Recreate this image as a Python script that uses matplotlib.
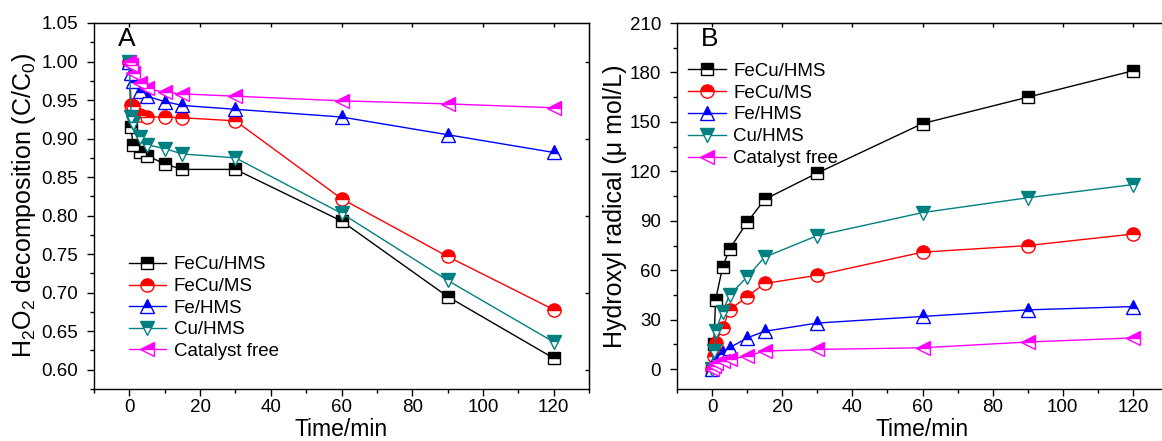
import matplotlib
matplotlib.use("Agg")
import matplotlib.pyplot as plt
from matplotlib.ticker import MultipleLocator, FormatStrFormatter

plt.rcParams['font.family'] = ['Liberation Sans', 'DejaVu Sans']
plt.rcParams['mathtext.fontset'] = 'custom'
plt.rcParams['mathtext.rm'] = 'Liberation Sans'
plt.rcParams['mathtext.it'] = 'Liberation Sans:italic'
plt.rcParams['mathtext.default'] = 'regular'

# ---------------- data ----------------
time_min = [0, 0.5, 1, 3, 5, 10, 15, 30, 60, 90, 120]
labels = ["FeCu/HMS", "FeCu/MS", "Fe/HMS", "Cu/HMS", "Catalyst free"]

# Panel A: H2O2 decomposition (C/C0)
a_fecu_hms = [1.0, 0.915, 0.892, 0.882, 0.878, 0.867, 0.860, 0.860, 0.793, 0.695, 0.615]
a_fecu_ms = [1.0, 0.944, 0.942, 0.930, 0.928, 0.928, 0.927, 0.923, 0.822, 0.747, 0.678]
a_fe_hms = [1.0, 0.985, 0.975, 0.962, 0.955, 0.948, 0.943, 0.938, 0.928, 0.905, 0.882]
a_cu_hms = [1.0, 0.928, 0.920, 0.902, 0.892, 0.887, 0.880, 0.875, 0.803, 0.716, 0.636]
a_free = [1.0, 0.995, 0.985, 0.972, 0.965, 0.960, 0.958, 0.955, 0.949, 0.945, 0.940]

# Panel B: Hydroxyl radical (umol/L)
b_fecu_hms = [0, 15, 42, 62, 73, 89, 103, 119, 149, 165, 181]
b_fecu_ms = [0, 8, 16, 25, 36, 44, 52, 57, 71, 75, 82]
b_fe_hms = [0, 4, 7, 10, 13, 19, 23, 28, 32, 36, 38]
b_cu_hms = [0, 11, 23, 35, 45, 56, 68, 81, 95, 104, 112]
b_free = [0, 2, 4, 5, 6, 8, 11, 12, 13, 16.5, 19]

colors = ["#000000", "#FF0000", "#0000FF", "#008080", "#FF00FF"]
markers = ["s", "o", "^", "v", "<"]
msizes = [8, 9.5, 10, 10, 10]

W, H = 1162, 441
fig = plt.figure(figsize=(W / 100, H / 100), dpi=100)

def px_axes(left, right, top, bottom):
    return fig.add_axes([left / W, 1 - bottom / H, (right - left) / W, (bottom - top) / H])

axA = px_axes(94, 589, 23, 389)
axB = px_axes(677, 1168, 23, 389)

def style(ax):
    ax.set_xlim(-10, 130)
    ax.xaxis.set_major_locator(MultipleLocator(20))
    ax.xaxis.set_minor_locator(MultipleLocator(10))
    ax.tick_params(which='both', direction='out', top=False, right=False, labelsize=13.5)
    ax.tick_params(axis='y', pad=6.5)
    ax.tick_params(axis='x', pad=2.5)
    ax.tick_params(which='major', length=5, width=1)
    ax.tick_params(which='minor', length=3, width=1)
    for s in ax.spines.values():
        s.set_linewidth(1.0)
    sec_x = ax.secondary_xaxis('top')
    sec_x.set_xticks(ax.get_xticks())
    sec_x.tick_params(which='both', direction='in', length=3, width=1)
    sec_x.set_xticklabels([])
    sec_y = ax.secondary_yaxis('right')
    sec_y.tick_params(which='both', direction='in', length=3, width=1)
    sec_y.set_yticklabels([])
    ax.set_xlabel("Time/min", fontsize=16.5, labelpad=1)

def draw(ax, series):
    for vals, lab, c, m, ms in zip(series, labels, colors, markers, msizes):
        ax.plot(time_min, vals, color=c, lw=1.0, marker=m, markersize=ms,
                fillstyle='top', markerfacecolor=c, markerfacecoloralt='white',
                markeredgecolor=c, markeredgewidth=1.0, label=lab)

draw(axA, [a_fecu_hms, a_fecu_ms, a_fe_hms, a_cu_hms, a_free])
axA.set_ylim(0.575, 1.05)
axA.yaxis.set_major_locator(MultipleLocator(0.05))
axA.yaxis.set_minor_locator(MultipleLocator(0.025))
axA.yaxis.set_major_formatter(FormatStrFormatter('%.2f'))
style(axA)
axA.set_ylabel("H$_2$O$_2$ decomposition (C/C$_0$)", fontsize=18, labelpad=2)
axA.text(0.048, 0.99, "A", transform=axA.transAxes, fontsize=19, va='top', ha='left')
axA.legend(loc='upper left', bbox_to_anchor=(0.055, 0.383), frameon=False, fontsize=13.5,
           handlelength=2.0, handletextpad=0.4, labelspacing=0.24, borderaxespad=0.0)

draw(axB, [b_fecu_hms, b_fecu_ms, b_fe_hms, b_cu_hms, b_free])
axB.set_ylim(-12, 210)
axB.yaxis.set_major_locator(MultipleLocator(30))
axB.yaxis.set_minor_locator(MultipleLocator(15))
style(axB)
axB.set_ylabel("Hydroxyl radical (\u03bc mol/L)", fontsize=18, labelpad=2)
axB.text(0.048, 0.99, "B", transform=axB.transAxes, fontsize=19, va='top', ha='left')
axB.legend(loc='upper left', bbox_to_anchor=(0.008, 0.912), frameon=False, fontsize=13.5,
           handlelength=2.0, handletextpad=0.4, labelspacing=0.25, borderaxespad=0.0)

fig.savefig("out.png", dpi=100)
